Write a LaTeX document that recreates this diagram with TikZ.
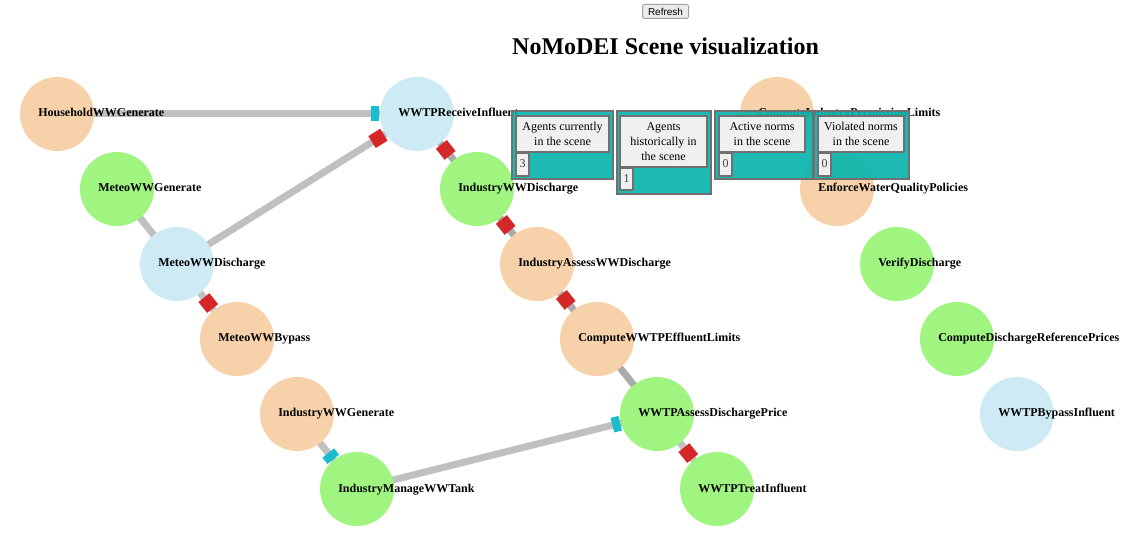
\documentclass[tikz,border=0pt]{standalone}
\usepackage{fontspec}
\setmainfont{Liberation Serif}
\newfontfamily\btnfont{Liberation Sans}
\usetikzlibrary{calc,backgrounds}
\definecolor{peach}{HTML}{F7D1A9}
\definecolor{leaf}{HTML}{9FF580}
\definecolor{sky}{HTML}{CEEBF5}
\definecolor{edgegray}{HTML}{C0C0C0}
\definecolor{edgedark}{HTML}{ABABAB}
\definecolor{markred}{HTML}{D62728}
\definecolor{markcyan}{HTML}{17BECF}
\definecolor{panelteal}{HTML}{09B4AD}
\definecolor{panelborder}{HTML}{707070}
\definecolor{hdrfill}{HTML}{F0F0F0}
\definecolor{btnfill}{HTML}{EBEBEB}
\definecolor{btnborder}{HTML}{A3A3A3}
\begin{document}
\begin{tikzpicture}[x=0.75pt,y=-0.75pt,
  act/.style={circle, minimum size=55.5pt, inner sep=0pt, outer sep=0pt},
  pch/.style={act, fill=peach},
  grn/.style={act, fill=leaf},
  blu/.style={act, fill=sky},
  lbl/.style={anchor=base west, inner sep=0pt, font=\fontsize{9}{10}\selectfont\bfseries},
  edge/.style={draw=edgegray, line width=5.25pt},
  edgeb/.style={draw=edgedark, line width=5.25pt},
  redmark/.style={rectangle, fill=markred, minimum width=10.5pt, minimum height=10.5pt, inner sep=0pt, pos=0, sloped},
  cyanmark/.style={rectangle, fill=markcyan, minimum width=6pt, minimum height=11.25pt, inner sep=0pt, pos=0, sloped},
  panelbox/.style={fill=panelteal, draw=panelborder, line width=1.5pt, fill opacity=0.92},
  hdrbox/.style={fill=hdrfill, draw=panelborder, line width=1.5pt},
  hdrtext/.style={anchor=base, inner sep=0pt, font=\fontsize{9}{10}\selectfont, text=black},
  valtext/.style={anchor=base, inner sep=0pt, font=\fontsize{9}{10}\selectfont, text=black!75}
]
\useasboundingbox (0,0) rectangle (1138,555);

% button and title
\draw[fill=btnfill, draw=btnborder, line width=0.75pt, rounded corners=1.5pt] (642.5,4.5) rectangle (688.5,18.5);
\node[inner sep=0pt, font=\btnfont\fontsize{7.5}{8}\selectfont] (refresh) at (665.5,11.5) {Refresh};
\node[anchor=base, inner sep=0pt, font=\fontsize{18}{20}\selectfont\bfseries] (title) at (665.5,55) {NoMoDEI Scene visualization};

% circles
\node[pch] (hh)  at (57,114)  {};
\node[grn] (mg)  at (117,189) {};
\node[blu] (md)  at (177,264) {};
\node[pch] (mb)  at (237,339) {};
\node[pch] (iwg) at (297,414) {};
\node[grn] (imt) at (357,489) {};
\node[blu] (wr)  at (417,114) {};
\node[grn] (iwd) at (477,189) {};
\node[pch] (iad) at (537,264) {};
\node[pch] (cwl) at (597,339) {};
\node[grn] (wad) at (657,414) {};
\node[grn] (wti) at (717,489) {};
\node[pch] (cip) at (777,114) {};
\node[pch] (ewq) at (837,189) {};
\node[grn] (vd)  at (897,264) {};
\node[grn] (cdr) at (957,339) {};
\node[blu] (wbi) at (1017,414) {};

% edges
\begin{scope}[on background layer]
\draw[edge]  (hh.center)  -- (wr.center);
\draw[edge]  (mg.center)  -- (md.center);
\draw[edge]  (md.center)  -- (wr.center);
\draw[edge]  (md.center)  -- (mb.center);
\draw[edgeb] (wr.center)  -- (iwd.center);
\draw[edgeb] (iwd.center) -- (iad.center);
\draw[edgeb] (iad.center) -- (cwl.center);
\draw[edgeb] (cwl.center) -- (wad.center);
\draw[edge]  (wad.center) -- (wti.center);
\draw[edge]  (iwg.center) -- (imt.center);
\draw[edge]  (imt.center) -- (wad.center);
\end{scope}

% markers
\path ($(wr.center)!31.5pt!(hh.center)$) -- (hh.center) node[cyanmark] (m1) {};
\path ($(wr.center)!34.5pt!(md.center)$) -- (md.center) node[redmark] (m2) {};
\path ($(mb.center)!34.5pt!(md.center)$) -- (md.center) node[redmark] (m3) {};
\path ($(wr.center)!34.5pt!(iwd.center)$) -- (iwd.center) node[redmark] (m4) {};
\path ($(iwd.center)!34.5pt!(iad.center)$) -- (iad.center) node[redmark] (m5) {};
\path ($(iad.center)!34.5pt!(cwl.center)$) -- (cwl.center) node[redmark] (m6) {};
\path ($(wti.center)!34.5pt!(wad.center)$) -- (wad.center) node[redmark] (m7) {};
\path ($(imt.center)!31.5pt!(iwg.center)$) -- (iwg.center) node[cyanmark] (m8) {};
\path ($(wad.center)!31.5pt!(imt.center)$) -- (imt.center) node[cyanmark] (m9) {};

% labels
\node[lbl] (hhL)  at (38,117)  {HouseholdWWGenerate};
\node[lbl] (mgL)  at (98,192)  {MeteoWWGenerate};
\node[lbl] (mdL)  at (158,267) {MeteoWWDischarge};
\node[lbl] (mbL)  at (218,342) {MeteoWWBypass};
\node[lbl] (iwgL) at (278,417) {IndustryWWGenerate};
\node[lbl] (imtL) at (338,492) {IndustryManageWWTank};
\node[lbl] (wrL)  at (398,117) {WWTPReceiveInfluent};
\node[lbl] (iwdL) at (458,192) {IndustryWWDischarge};
\node[lbl] (iadL) at (518,267) {IndustryAssessWWDischarge};
\node[lbl] (cwlL) at (578,342) {ComputeWWTPEffluentLimits};
\node[lbl] (wadL) at (638,417) {WWTPAssessDischargePrice};
\node[lbl] (wtiL) at (698,492) {WWTPTreatInfluent};
\node[lbl] (cipL) at (758,117) {ComputeIndustryPermissionLimits};
\node[lbl] (ewqL) at (818,192) {EnforceWaterQualityPolicies};
\node[lbl] (vdL)  at (878,267) {VerifyDischarge};
\node[lbl] (cdrL) at (938,342) {ComputeDischargeReferencePrices};
\node[lbl] (wbiL) at (998,417) {WWTPBypassInfluent};

% info panels
\draw[panelbox] (512,111) rectangle (613,179);
\draw[hdrbox] (516,116) rectangle (609,152);
\draw[hdrbox] (516,153) rectangle (529,176);
\node[hdrtext] (p1a) at (562.5,131) {Agents currently};
\node[hdrtext] (p1b) at (562.5,146) {in the scene};
\node[valtext] (p1v) at (522.5,168) {3};

\draw[panelbox] (617,111) rectangle (711,194);
\draw[hdrbox] (620,116) rectangle (707,167);
\draw[hdrbox] (620,168) rectangle (633,190);
\node[hdrtext] (p2a) at (663.5,131) {Agents};
\node[hdrtext] (p2b) at (663.5,146) {historically in};
\node[hdrtext] (p2c) at (663.5,161) {the scene};
\node[valtext] (p2v) at (626.5,183) {1};

\draw[panelbox] (715,111) rectangle (813,179);
\draw[hdrbox] (719,116) rectangle (805,152);
\draw[hdrbox] (719,153) rectangle (732,176);
\node[hdrtext] (p3a) at (762,131) {Active norms};
\node[hdrtext] (p3b) at (762,146) {in the scene};
\node[valtext] (p3v) at (725.5,168) {0};

\draw[panelbox] (814,111) rectangle (909,179);
\draw[hdrbox] (818,116) rectangle (904,152);
\draw[hdrbox] (818,153) rectangle (831,176);
\node[hdrtext] (p4a) at (861,131) {Violated norms};
\node[hdrtext] (p4b) at (861,146) {in the scene};
\node[valtext] (p4v) at (824.5,168) {0};
\end{tikzpicture}
\end{document}
